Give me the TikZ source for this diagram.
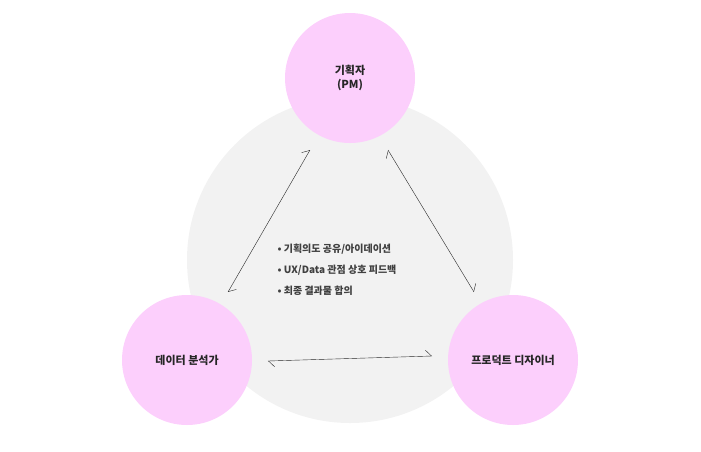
\documentclass[tikz,border=0pt]{standalone}
\usepackage{fontspec}
\setmainfont{Noto Sans CJK KR}
\usetikzlibrary{arrows.meta}
\definecolor{rolepink}{HTML}{FCCFFC}
\definecolor{backgray}{HTML}{F2F2F2}
\tikzset{
    role/.style={
           circle,
           fill=rolepink,
           minimum size=130pt,
           inner sep=2pt,
           font=\bfseries\fontsize{11}{14}\selectfont,
           text=black!85,
           align=center,
           },
    link/.style={
           {Straight Barb[harpoon,length=6pt,width=12pt]}-{Straight Barb[harpoon,length=6pt,width=12pt]},
           thin,
           black!85,
           },
}
\begin{document}
\begin{tikzpicture}[x=1pt, y=-1pt]
	\useasboundingbox (0,0) rectangle (701,451);
	\fill[backgray] (350,260) circle (163);

	\node[role] (pm) at (350,78) {기획자\\(PM)};
	\node[role] (analyst) at (187,360) {데이터 분석가};
	\node[role] (designer) at (513,360) {프로덕트 디자이너};

	% connectors
	\coordinate (a1) at (228,292);
	\coordinate (a2) at (310,150);
	\coordinate (b1) at (388,150);
	\coordinate (b2) at (474,292);
	\coordinate (c1) at (268,361);
	\coordinate (c2) at (432,356);
	\draw[link] (a1) -- (a2);
	\draw[link] (b1) -- (b2);
	\draw[link] (c1) -- (c2);

	\node[anchor=north west, align=left, text=black!75,
	      font=\bfseries\fontsize{10}{21}\selectfont] (notes) at (274,240) {
		• 기획의도 공유/아이데이션\\
		• UX/Data 관점 상호 피드백\\
		• 최종 결과물 합의
	};
\end{tikzpicture}
\end{document}
